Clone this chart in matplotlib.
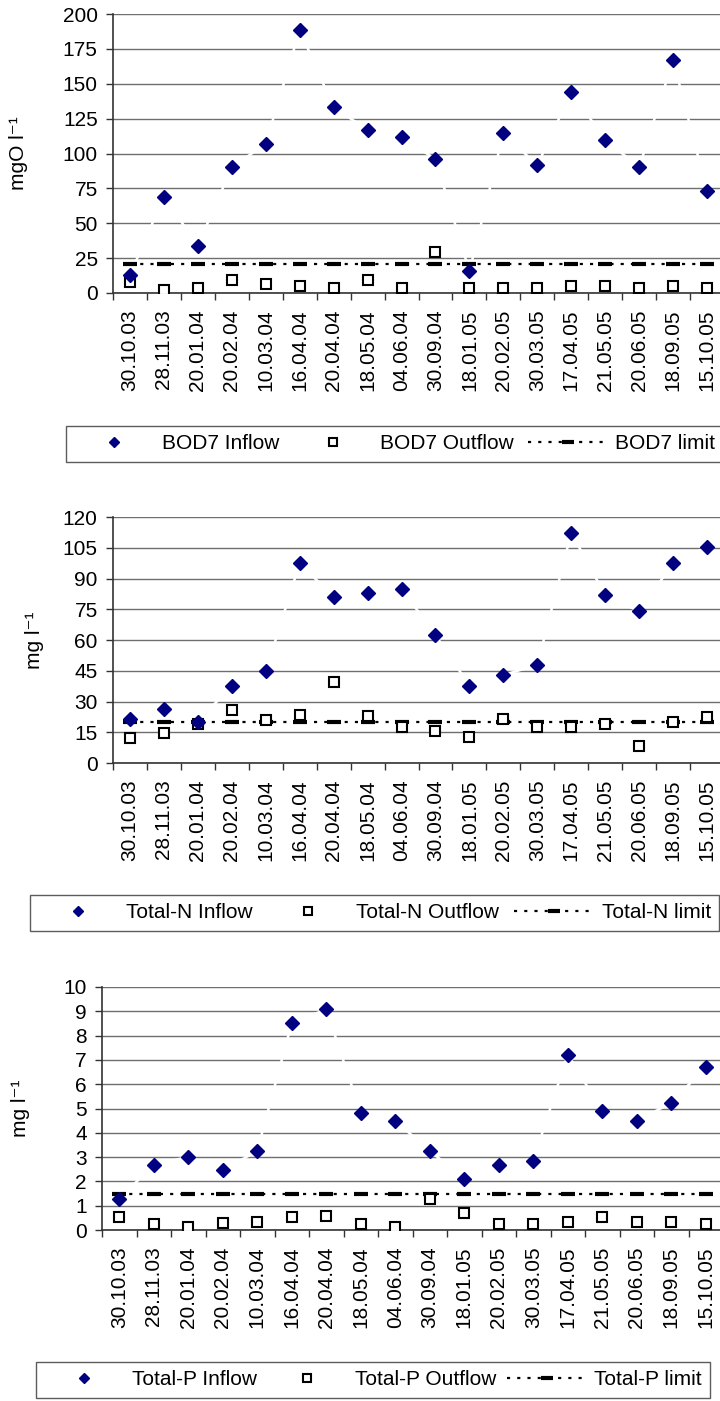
import matplotlib.pyplot as plt
import numpy as np

plt.rcParams['font.family'] = ['Liberation Sans', 'DejaVu Sans']
plt.rcParams['font.size'] = 15

# sampling dates shared by all three panels
dates = ["30.10.03", "28.11.03", "20.01.04", "20.02.04", "10.03.04", "16.04.04",
         "20.04.04", "18.05.04", "04.06.04", "30.09.04", "18.01.05", "20.02.05",
         "30.03.05", "17.04.05", "21.05.05", "20.06.05", "18.09.05", "15.10.05"]

# BOD7, mgO/l
bod_in = [13, 69, 34, 90, 107, 188.5, 133, 117, 111.5, 96, 15.5, 114.5,
          91.5, 144, 110, 90, 167, 73]
bod_out = [7.6, 2.1, 3.8, 9.3, 6.4, 5, 3.8, 9, 3.8, 29.4, 3.6, 3.8,
           3.8, 5.2, 5.2, 3.8, 5.2, 3.8]
bod_limit = 21

# Total-N, mg/l
tn_in = [21.7, 26.3, 20.1, 37.8, 44.7, 97.5, 80.9, 83, 85, 62.4, 37.8, 42.9,
         47.8, 112.3, 81.9, 74, 97.5, 105.3]
tn_out = [12.1, 14.8, 18.8, 25.8, 21.2, 23.6, 39.5, 22.8, 17.8, 15.8, 12.9, 21.4,
          17.6, 17.8, 18.9, 8.2, 19.9, 22.2]
tn_limit = 20

# Total-P, mg/l
tp_in = [1.29, 2.68, 3.01, 2.45, 3.26, 8.52, 9.08, 4.82, 4.49, 3.26, 2.11, 2.68,
         2.85, 7.22, 4.9, 4.49, 5.23, 6.71]
tp_out = [0.52, 0.26, 0.11, 0.27, 0.34, 0.52, 0.59, 0.26, 0.11, 1.26, 0.68, 0.26,
          0.26, 0.34, 0.52, 0.34, 0.34, 0.26]
tp_limit = 1.5

W, H = 720, 1401
fig = plt.figure(figsize=(W / 100, H / 100), dpi=100)


def px_axes(left, right, top, bottom):
    return fig.add_axes([left / W, 1 - bottom / H, (right - left) / W, (bottom - top) / H])


def draw_panel(box, inflow, outflow, limit, ymax, ystep, name, ylabel, label_x,
               leg_xy, colspace):
    left, right, top, bottom = box
    ax = px_axes(left, right, top, bottom)
    x = np.arange(len(dates))

    # white connector behind the inflow markers
    ax.plot(x, inflow, color='white', lw=1.8, zorder=2)
    h_in, = ax.plot(x, inflow, ls='none', marker='D', ms=7, color='#000080',
                    zorder=5, label=f"{name} Inflow")
    h_out, = ax.plot(x, outflow, ls='none', marker='s', ms=7.5, mfc='white',
                     mec='black', mew=1.5, zorder=4, label=f"{name} Outflow")
    h_lim, = ax.plot(x, [limit] * len(dates), color='black', lw=1.6,
                     ls=(0, (1.4, 3.2)), marker='_', ms=10, mew=3, zorder=3,
                     label=f"{name} limit")

    ax.set_xlim(-0.5, len(dates) - 0.5)
    ax.set_ylim(0, ymax)
    ax.set_yticks(np.arange(0, ymax + ystep / 2, ystep))
    ax.set_xticks(x)
    ax.set_xticklabels(dates, rotation=90)
    ax.set_xticks(np.arange(-0.5, len(dates), 1), minor=True)
    ax.tick_params(axis='x', which='major', length=0, pad=12)
    ax.tick_params(axis='x', which='minor', length=5, width=1, color='#333333')
    ax.tick_params(axis='y', length=5, width=1, color='#333333', pad=6)

    ax.yaxis.grid(True, color='#6e6e6e', lw=1)
    ax.set_axisbelow(True)
    for side in ('top', 'right'):
        ax.spines[side].set_visible(False)
    for side in ('left', 'bottom'):
        ax.spines[side].set_color('#333333')
        ax.spines[side].set_linewidth(1.2)

    fig.text(label_x / W, 1 - (top + bottom) / 2 / H, ylabel, rotation=90,
             ha='center', va='center')

    leg = fig.legend([h_in, h_out, h_lim], [h.get_label() for h in (h_in, h_out, h_lim)],
                     loc='upper left', bbox_to_anchor=(leg_xy[0] / W, 1 - leg_xy[1] / H),
                     ncol=3, frameon=True, fancybox=False, edgecolor='#333333',
                     borderpad=0.4, handlelength=3.85, handletextpad=0.35,
                     columnspacing=colspace, borderaxespad=0, markerscale=0.8,
                     numpoints=1)
    leg.get_frame().set_linewidth(1)
    return ax


draw_panel((113, 724, 14, 293), bod_in, bod_out, bod_limit, 200, 25, "BOD7",
           "mgO l⁻¹", 19, (66, 426), 0.65)
draw_panel((113, 724, 517, 763), tn_in, tn_out, tn_limit, 120, 15, "Total-N",
           "mg l⁻¹", 35, (30, 895), 0.75)
draw_panel((102, 723, 987, 1230), tp_in, tp_out, tp_limit, 10, 1, "Total-P",
           "mg l⁻¹", 20, (36, 1362), 0.5)

fig.savefig("out.png", dpi=100)
